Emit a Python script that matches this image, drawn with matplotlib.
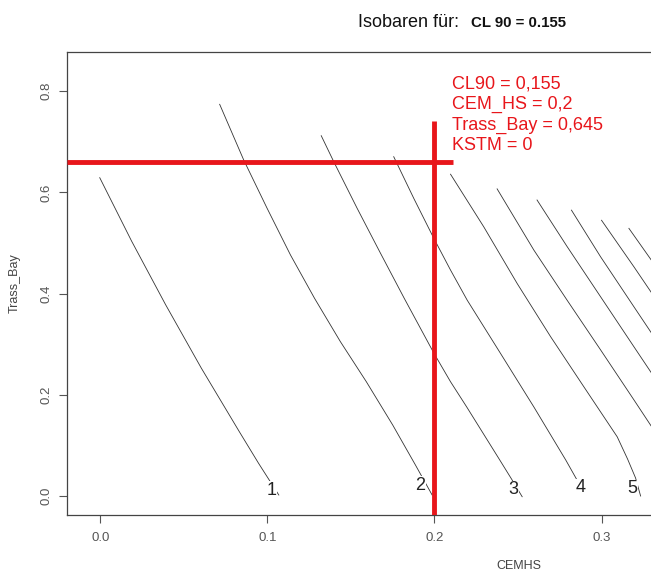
import matplotlib
matplotlib.use("Agg")
import matplotlib.pyplot as plt

plt.rcParams['font.family'] = ['Liberation Sans', 'DejaVu Sans']

# Contour (isobar) lines: (CEMHS, Trass_Bay)
line1_x = [-0.0004, 0.0187, 0.0390, 0.0604, 0.0831, 0.0947, 0.1068]
line1_y = [0.6291, 0.5036, 0.3783, 0.2528, 0.1275, 0.0646, 0.0020]
line2_x = [0.0714, 0.0858, 0.0998, 0.1138, 0.1282, 0.1437, 0.1592, 0.1750, 0.1886, 0.1986]
line2_y = [0.7741, 0.6640, 0.5686, 0.4763, 0.3907, 0.3049, 0.2259, 0.1403, 0.0613, 0.0020]
line3_x = [0.1322, 0.1397, 0.1537, 0.1672, 0.1819, 0.1997, 0.2096, 0.2192, 0.2391, 0.2465, 0.2525]
line3_y = [0.7121, 0.6607, 0.5686, 0.4828, 0.3907, 0.2820, 0.2259, 0.1765, 0.0711, 0.0316, -0.0014]
line4_x = [0.1756, 0.1876, 0.1996, 0.2096, 0.2196, 0.2395, 0.2595, 0.2786, 0.2904]
line4_y = [0.6706, 0.5883, 0.5093, 0.4466, 0.3870, 0.2820, 0.1760, 0.0711, 0.0020]
line5_x = [0.2096, 0.2295, 0.2495, 0.2695, 0.2894, 0.3094, 0.3156, 0.3204, 0.3234]
line5_y = [0.6360, 0.5320, 0.4200, 0.3150, 0.2160, 0.1170, 0.0731, 0.0356, 0.0000]
line6_x = [0.2375, 0.2595, 0.2794, 0.2994, 0.3194, 0.3350]
line6_y = [0.6070, 0.4860, 0.3870, 0.2890, 0.1900, 0.1120]
line7_x = [0.2614, 0.2794, 0.2994, 0.3194, 0.3350]
line7_y = [0.5850, 0.4930, 0.3940, 0.2950, 0.2180]
line8_x = [0.2820, 0.2994, 0.3194, 0.3350]
line8_y = [0.5650, 0.4730, 0.3740, 0.2970]
line9_x = [0.3000, 0.3194, 0.3350]
line9_y = [0.5450, 0.4530, 0.3770]
line10_x = [0.3164, 0.3350]
line10_y = [0.5290, 0.4420]

lines_x = [line1_x, line2_x, line3_x, line4_x, line5_x, line6_x, line7_x, line8_x, line9_x, line10_x]
lines_y = [line1_y, line2_y, line3_y, line4_y, line5_y, line6_y, line7_y, line8_y, line9_y, line10_y]

contour_labels = ["1", "2", "3", "4", "5"]
label_x = [0.1028, 0.1916, 0.2475, 0.2875, 0.3185]
label_y = [0.0119, 0.0217, 0.0120, 0.0160, 0.0150]

x_ticks = [0.0, 0.1, 0.2, 0.3]
y_ticks = [0.0, 0.2, 0.4, 0.6, 0.8]

# Marked point
cem_hs = 0.2
trass_line = 0.6607
hline_xmax = 0.211
vline_ymax = 0.741
info_lines = ["CL90 = 0,155", "CEM_HS = 0,2", "Trass_Bay = 0,645", "KSTM = 0"]

W, H = 651, 572
fig = plt.figure(figsize=(W / 100, H / 100), dpi=100)
left_px, right_px, top_px, bottom_px = 67, 969, 52, 515
ax = fig.add_axes([left_px / W, (H - bottom_px) / H,
                   (right_px - left_px) / W, (bottom_px - top_px) / H])
ax.set_xlim(-0.02, 0.52)
ax.set_ylim(-0.0375, 0.8775)

for xs, ys in zip(lines_x, lines_y):
    ax.plot(xs, ys, color='#333333', lw=0.6, zorder=2)

for lab, lx, ly in zip(contour_labels, label_x, label_y):
    ax.text(lx, ly, lab, fontsize=13, color='#222222', ha='center', va='center',
            zorder=3, bbox=dict(facecolor='white', edgecolor='none', pad=0.2))

red = '#e8161b'
ax.plot([-0.02, hline_xmax], [trass_line, trass_line], color=red, lw=3.5, zorder=4,
        solid_capstyle='butt')
ax.plot([cem_hs, cem_hs], [-0.0375, vline_ymax], color=red, lw=3.5, zorder=4,
        solid_capstyle='butt')

for i, t in enumerate(info_lines):
    ax.text(0.2107, 0.8057 - i * 0.0407, t, color=red, fontsize=13,
            ha='left', va='baseline', zorder=5)

ax.set_xticks(x_ticks)
ax.set_xticklabels([f"{v:.1f}" for v in x_ticks])
ax.set_yticks(y_ticks)
ax.set_yticklabels([f"{v:.1f}" for v in y_ticks], rotation=90, va='center')
ax.tick_params(axis='both', length=6, width=0.8, color='#555555',
               labelcolor='#555555', labelsize=9.5, direction='out')
ax.tick_params(axis='x', pad=6.5)
ax.tick_params(axis='y', pad=4.5)
for s in ax.spines.values():
    s.set_color('#444444')
    s.set_linewidth(0.9)

fig.text(519 / W, 1 - 566 / H, "CEMHS", fontsize=9, color='#444444',
         ha='center', va='center')
fig.text(15 / W, 1 - 283 / H, "Trass_Bay", fontsize=9, color='#444444',
         ha='center', va='center', rotation=90)

fig.text(358 / W, 1 - 27.3 / H, "Isobaren für:", fontsize=13, color='#111111',
         ha='left', va='baseline')
fig.text(471 / W, 1 - 26.7 / H, "CL 90 = 0.155", fontsize=10.8, color='#111111',
         ha='left', va='baseline', fontweight='bold')

fig.savefig("out.png", dpi=100)
